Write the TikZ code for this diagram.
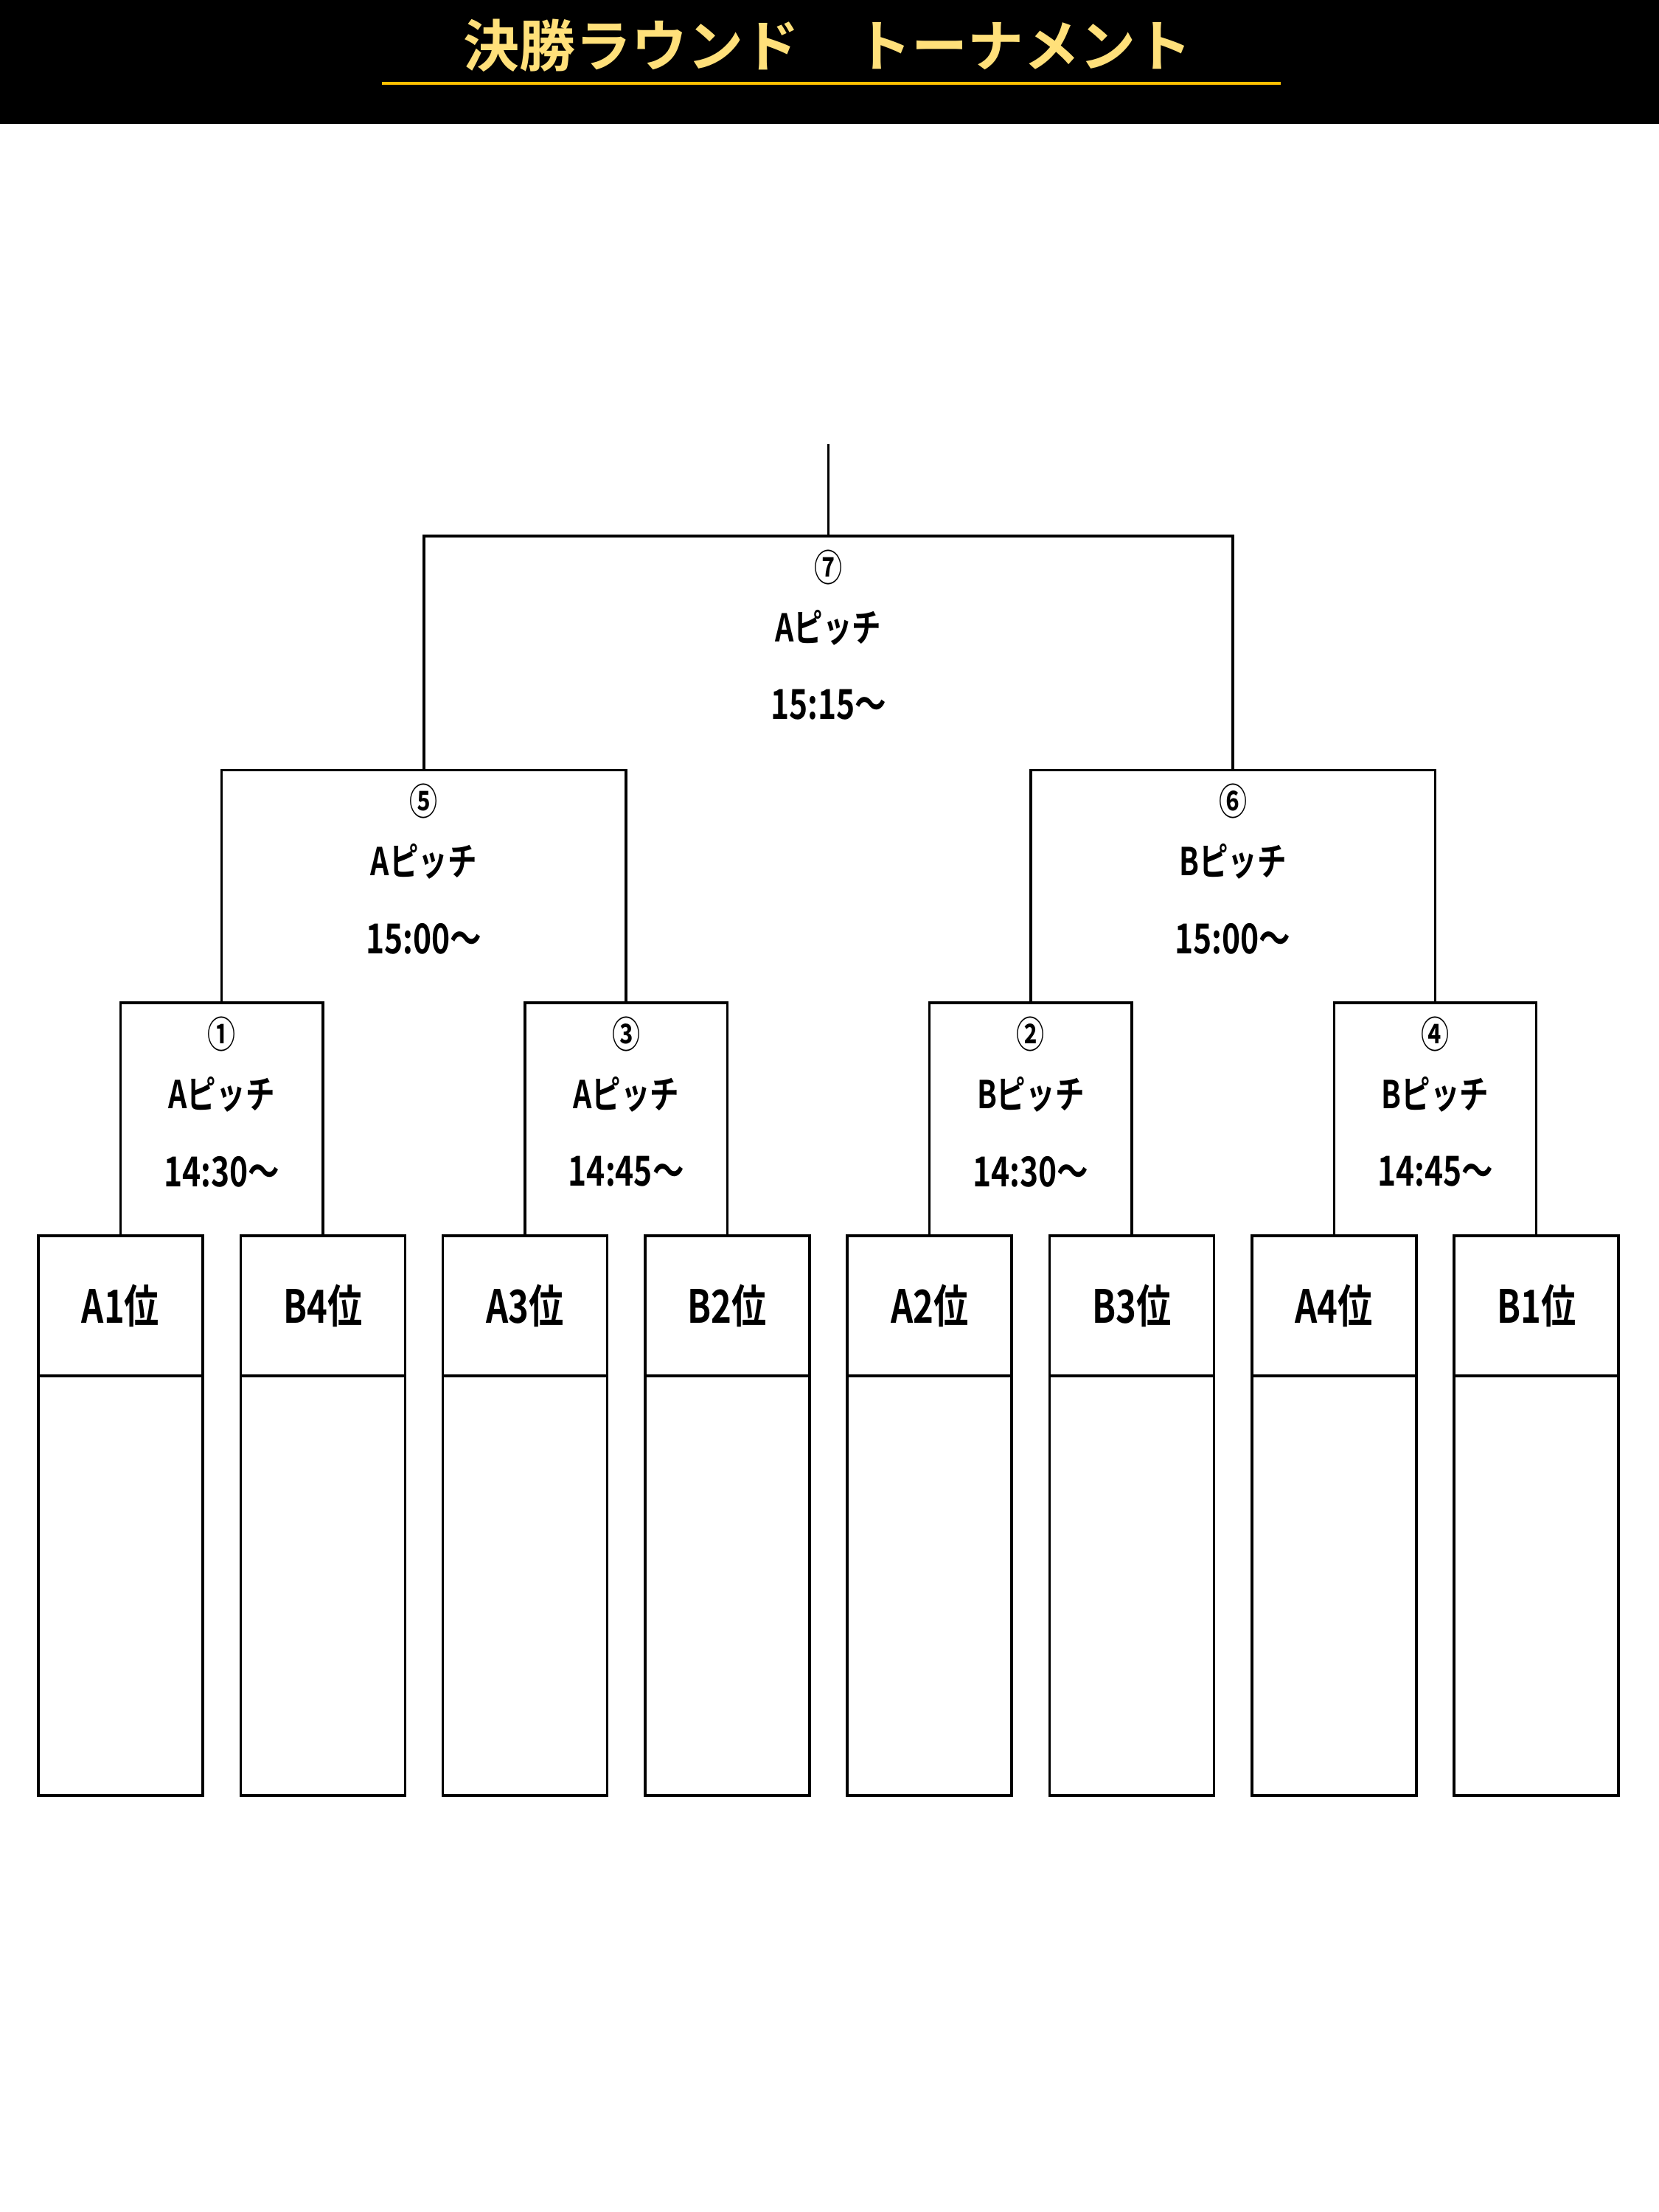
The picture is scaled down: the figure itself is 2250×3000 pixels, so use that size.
\documentclass[tikz,border=0pt]{standalone}
\usepackage{fontspec}
\setmainfont{Noto Sans CJK JP}[BoldFont={Noto Sans CJK JP Bold}]
\newfontfamily\jpb{Noto Sans CJK JP Bold}[FakeStretch=0.76]
\newfontfamily\jpt{Noto Sans CJK JP Bold}
\definecolor{titlegold}{HTML}{FFE07A}
\definecolor{linegold}{HTML}{FFC000}
\begin{document}
\begin{tikzpicture}[x=1pt,y=-1pt,
  ln/.style={line width=3.5pt,black},
  teamhead/.style={draw,line width=3.5pt,outer sep=0pt,minimum width=223pt,minimum height=190pt,inner sep=0pt,anchor=north,font=\jpb\fontsize{62}{62}\selectfont},
  teambody/.style={draw,line width=3.5pt,outer sep=0pt,minimum width=223pt,minimum height=569pt,inner sep=0pt,anchor=north},
  circnum/.style={inner sep=0pt,font=\jpb\fontsize{50}{50}\selectfont},
  pitch/.style={inner sep=0pt,font=\jpb\fontsize{52}{52}\selectfont},
  timelbl/.style={inner sep=0pt,font=\jpb\fontsize{56}{56}\selectfont}]
\useasboundingbox (0,0) rectangle (2250,3000);
\fill[white] (0,0) rectangle (2250,3000);
% header
\fill[black] (0,0) rectangle (2250,168);
\node[inner sep=0pt,text=titlegold,font=\jpt\fontsize{76}{76}\selectfont] (title) at (1122,62) {決勝ラウンド　トーナメント};
\coordinate (ulL) at (518,112.7);
\coordinate (ulR) at (1737,112.7);
\draw[line width=4pt,linegold] (ulL) -- (ulR);
% team boxes
\foreach \i/\nm/\lbl in {0/t0/A1位,1/t1/B4位,2/t2/A3位,3/t3/B2位,4/t4/A2位,5/t5/B3位,6/t6/A4位,7/t7/B1位}{
  \node[teamhead] (\nm) at ({163.5+274.3*\i},1676) {\raisebox{6pt}{\lbl}};
  \node[teambody] (\nm b) at (\nm.south) {};
}
% bracket tops
\coordinate (m1) at (300.6,1360);
\coordinate (m3) at (849.2,1360);
\coordinate (m2) at (1397.8,1360);
\coordinate (m4) at (1946.4,1360);
\coordinate (m5) at (574.9,1044.5);
\coordinate (m6) at (1672.1,1044.5);
\coordinate (m7) at (1123.5,727);
\coordinate (top) at (1123.5,602);
% connectors
\draw[ln] (t0.north) |- (m1) -| (t1.north);
\draw[ln] (t2.north) |- (m3) -| (t3.north);
\draw[ln] (t4.north) |- (m2) -| (t5.north);
\draw[ln] (t6.north) |- (m4) -| (t7.north);
\draw[ln] (m1) |- (m5) -| (m3);
\draw[ln] (m2) |- (m6) -| (m4);
\draw[ln] (m5) |- (m7) -| (m6);
\draw[ln] (m7) -- (top);
% labels
\foreach \c/\n/\p/\t in {m1/①/Aピッチ/14:30～,m3/③/Aピッチ/14:45～,m2/②/Bピッチ/14:30～,m4/④/Bピッチ/14:45～,m5/⑤/Aピッチ/15:00～,m6/⑥/Bピッチ/15:00～,m7/⑦/Aピッチ/15:15～}{
  \node[circnum] (\c n) at ([yshift=-42pt]\c) {\n};
  \node[pitch] (\c p) at ([yshift=-124pt]\c) {\p};
  \node[timelbl] (\c t) at ([yshift=-229pt]\c) {\t};
}
\end{tikzpicture}
\end{document}
